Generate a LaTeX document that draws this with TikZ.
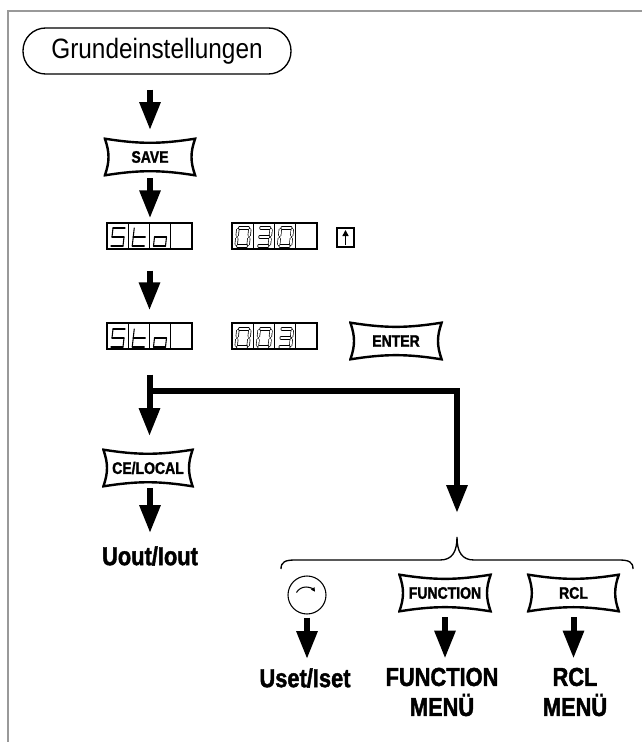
\documentclass[tikz,border=0pt]{standalone}
\usepackage{fontspec}
\setmainfont{Liberation Sans}
\newfontfamily\grundfont[FakeStretch=0.87]{Liberation Sans}
\newfontfamily\labelfont[FakeStretch=0.84, BoldFeatures={FakeBold=1.6}]{Liberation Sans}
\usetikzlibrary{arrows.meta,calc}

% one seven-segment digit: x, y (top left of cell), segments, style
\newcommand\segdigit[4]{%
  \foreach \s in {#3}{%
    \if a\s \draw[#4] (#1+6,-#2-5) -- (#1+18,-#2-5); \fi
    \if b\s \draw[#4] (#1+18,-#2-5) -- (#1+17,-#2-14); \fi
    \if c\s \draw[#4] (#1+17,-#2-14) -- (#1+16,-#2-23); \fi
    \if d\s \draw[#4] (#1+4,-#2-23) -- (#1+16,-#2-23); \fi
    \if e\s \draw[#4] (#1+5,-#2-14) -- (#1+4,-#2-23); \fi
    \if f\s \draw[#4] (#1+6,-#2-5) -- (#1+5,-#2-14); \fi
    \if g\s \draw[#4] (#1+5,-#2-14) -- (#1+17,-#2-14); \fi
  }}

\tikzset{
  bigarrow/.style={line width=4.5pt, -{Triangle[width=15pt,length=21pt]}},
  startbox/.style={draw, line width=1pt, rounded corners=17pt, minimum width=201pt,
    minimum height=34.5pt, font={\grundfont\fontsize{21pt}{24pt}\selectfont}},
  keybox/.style={minimum height=29.5pt, inner sep=0pt,
    font={\labelfont\bfseries\fontsize{12.5pt}{14pt}\selectfont},
    path picture={
      \path (path picture bounding box.north west) ++(1pt,-1pt) coordinate (k1)
            (path picture bounding box.north east) ++(-1pt,-1pt) coordinate (k2)
            (path picture bounding box.south east) ++(-1pt,1pt) coordinate (k3)
            (path picture bounding box.south west) ++(1pt,1pt) coordinate (k4);
      \draw[line width=1.8pt, line join=miter]
        (k1) to[bend right=9] (k2) to[bend right=20] (k3)
        to[bend right=9] (k4) to[bend right=20] cycle;
    }},
  display/.style={draw, line width=1pt, minimum width=63.75pt, minimum height=19.5pt,
    inner sep=0pt,
    path picture={
      \foreach \i in {1,2,3}
        \draw[line width=1pt]
          ($(path picture bounding box.north west)!\i/4!(path picture bounding box.north east)$) --
          ($(path picture bounding box.south west)!\i/4!(path picture bounding box.south east)$);
    }},
  segsolid/.style={line width=0.8pt, line cap=round},
  seghollow/.style={line width=0.5pt, double, double distance=1.4pt, line cap=round,
    shorten <=1.2pt, shorten >=1.2pt},
  biglabel/.style={inner sep=0pt, align=center,
    font={\labelfont\bfseries\fontsize{19.5pt}{22.5pt}\selectfont}}
}

\begin{document}
\begin{tikzpicture}[x=0.75pt,y=0.75pt]

\useasboundingbox (0,0) rectangle (642,-742);

% frame
\draw[gray!80, line width=0.9pt] (642,-11) -- (8,-11) -- (8,-742);

% start
\node[startbox] (grund) at (157,-51) {Grundeinstellungen};
\node[keybox, minimum width=69.75pt] (save) at (150,-157) {SAVE};

% displays
\node[display] (sto1) at (149.5,-236) {};
\node[display] (val1) at (274.5,-236) {};
\node[draw, line width=1pt, minimum width=12.75pt, minimum height=14.25pt, inner sep=0pt] (upkey) at (345.5,-237.5) {};
\draw[line width=1.2pt, -{Triangle[width=4.5pt,length=4.5pt]}] ([yshift=2pt]upkey.south) -- ([yshift=-2pt]upkey.north);

\node[display] (sto2) at (149.5,-336) {};
\node[display] (val2) at (274.5,-336) {};
\node[keybox, minimum width=70.5pt] (enter) at (396,-341) {ENTER};

% Sto
\foreach \yy in {223,324}
{
    \segdigit{107}{\yy}{a,f,g,c,d}{segsolid}
    \segdigit{128.25}{\yy}{f,e,g,d}{segsolid}
    \segdigit{149.5}{\yy}{g,c,d,e}{segsolid}
}

% 030 and 003
\segdigit{232}{223}{a,b,c,d,e,f}{seghollow}
\segdigit{253.25}{223}{a,b,g,c,d}{seghollow}
\segdigit{274.5}{223}{a,b,c,d,e,f}{seghollow}
\segdigit{232}{324}{a,b,c,d,e,f}{seghollow}
\segdigit{253.25}{324}{a,b,c,d,e,f}{seghollow}
\segdigit{274.5}{324}{a,b,g,c,d}{seghollow}

% left branch
\node[keybox, minimum width=69pt] (celocal) at (148,-468) {CE/LOCAL};
\node[biglabel] (uout) at (150,-556) {Uout/Iout};

% right branch
\coordinate (split) at (150,-391);
\coordinate (bracetip) at (457,-537);
\draw[line width=1pt] (281,-569) .. controls (281,-562) and (285,-560) .. (295,-560) -- (440,-560)
    .. controls (452,-560) and (457,-552) .. (bracetip)
    .. controls (457,-552) and (462,-560) .. (474,-560) -- (619,-560)
    .. controls (629,-560) and (633,-562) .. (633,-569);

\node[draw, circle, line width=0.8pt, minimum size=28.5pt, inner sep=0pt] (knob) at (307,-595) {};
\draw[line width=0.8pt, -{Triangle[width=3pt,length=3pt]}] (306,-598) ++(150:11) arc (150:35:11);
\node[keybox, minimum width=70.5pt] (function) at (445,-593) {FUNCTION};
\node[keybox, minimum width=70pt] (rcl) at (573.5,-593) {RCL};

\node[biglabel] (uset) at (305,-678) {Uset/Iset};
\node[biglabel] (funcmenu) at (442,-692) {FUNCTION\\MENÜ};
\node[biglabel] (rclmenu) at (575,-692) {RCL\\MENÜ};

% arrows
\draw[bigarrow, shorten <=11.25pt, shorten >=5.25pt] (grund.south -| save.north) -- (save.north);
\draw[bigarrow, shorten <=1pt, shorten >=3pt] (save.south) -- (save.south |- sto1.north);
\draw[bigarrow, shorten <=15.75pt, shorten >=9pt] (sto1.south) -- (sto2.north);
\draw[bigarrow, shorten <=18.75pt, shorten >=9pt] (sto2.south) -- (sto2.south |- celocal.north);
\draw[bigarrow, shorten >=18pt] (split) -| (bracetip);
\draw[bigarrow, shorten <=1.5pt, shorten >=9.75pt] (celocal.south) -- (celocal.south -| uout.north) -- (uout.north);
\draw[bigarrow, shorten <=2.25pt, shorten >=6.75pt] (knob.south) -- (knob.south |- uset.north);
\draw[bigarrow, shorten <=3.4pt, shorten >=6.75pt] (function.south) -- (function.south |- funcmenu.north);
\draw[bigarrow, shorten <=3.4pt, shorten >=6.75pt] (rcl.south) -- (rcl.south |- rclmenu.north);

\end{tikzpicture}
\end{document}
